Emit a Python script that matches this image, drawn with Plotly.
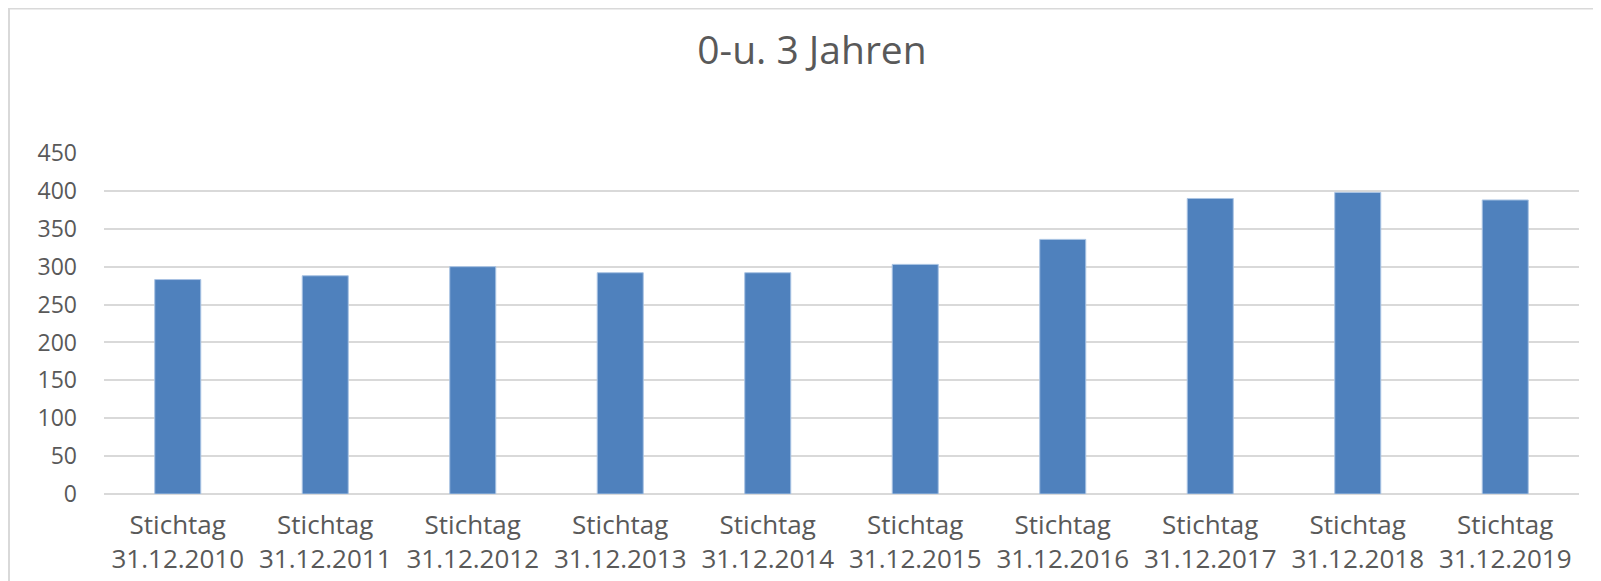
import plotly.graph_objects as go

categories = ["Stichtag<br>31.12.2010", "Stichtag<br>31.12.2011", "Stichtag<br>31.12.2012",
              "Stichtag<br>31.12.2013", "Stichtag<br>31.12.2014", "Stichtag<br>31.12.2015",
              "Stichtag<br>31.12.2016", "Stichtag<br>31.12.2017", "Stichtag<br>31.12.2018",
              "Stichtag<br>31.12.2019"]
values = [283, 288, 300, 292, 292, 303, 336, 390, 398, 388]
y_ticks = [0, 50, 100, 150, 200, 250, 300, 350, 400, 450]
title_text = "0-u. 3 Jahren"

W, H = 1601, 581
ML, MR, MT, MB = 96, 30, 145, 95
TEXT = "#595959"
GRID = "#D9D9D9"

fig = go.Figure()
fig.add_trace(go.Bar(
    x=categories, y=values,
    marker=dict(color="#4F81BD", line=dict(color="#A9C3E3", width=1)),
    hoverinfo="x+y",
))

pw = W - ML - MR
ph = H - MT - MB
def px_to_paper_x(px):
    return (px - ML) / pw
def px_to_paper_y(py):
    return (H - MB - py) / ph

# chart-area border (only the top-left corner is visible in the picture)
fig.add_shape(type="rect", xref="paper", yref="paper",
              x0=px_to_paper_x(1), x1=px_to_paper_x(1640),
              y0=px_to_paper_y(620), y1=px_to_paper_y(0.5),
              line=dict(color="#D9D9D9", width=2), fillcolor="rgba(0,0,0,0)", layer="below")

fig.update_layout(
    width=W, height=H,
    margin=dict(l=ML, r=MR, t=MT, b=MB),
    paper_bgcolor="white", plot_bgcolor="white",
    bargap=0.688,
    showlegend=False,
    font=dict(family="Open Sans, sans-serif", color=TEXT),
    title=dict(text=title_text, x=804 / W, xanchor="center", xref="container",
               y=1 - 42 / H, yanchor="middle", yref="container",
               font=dict(family="Open Sans, sans-serif", size=39, color=TEXT)),
    xaxis=dict(showgrid=False, showline=False, ticks="",
               tickfont=dict(size=26, color=TEXT), ticklabelstandoff=13),
    yaxis=dict(range=[0, 450], tickvals=y_ticks, showgrid=True, gridcolor=GRID, gridwidth=2,
               zeroline=True, zerolinecolor=GRID, zerolinewidth=2, showline=False, ticks="",
               tickfont=dict(size=23, color=TEXT), ticklabelstandoff=26),
)

fig.write_html("out.html")
